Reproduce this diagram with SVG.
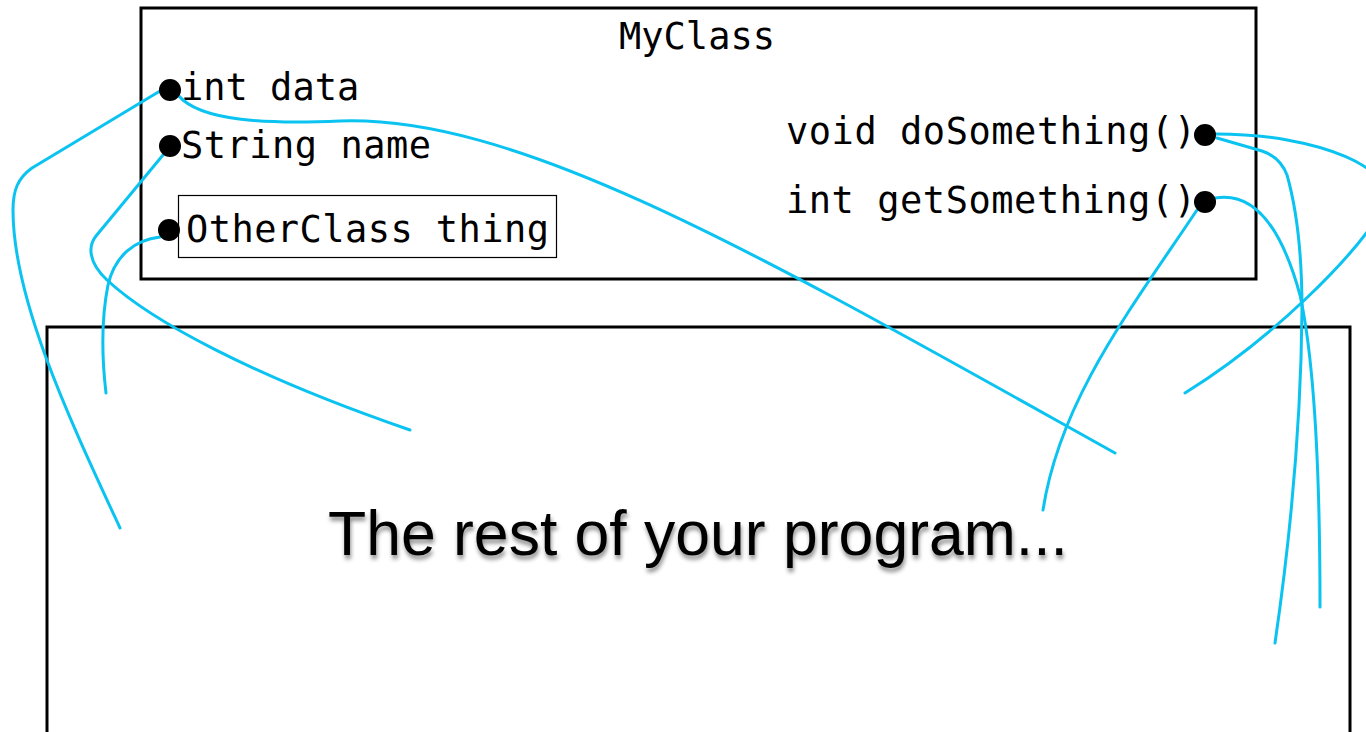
<svg xmlns="http://www.w3.org/2000/svg" width="1366" height="732" viewBox="0 0 1366 732">
<style>
.box{fill:none;stroke:#000;stroke-width:3}
.mono{font-family:"DejaVu Sans Mono","Liberation Mono",monospace;font-size:37px;fill:#000}
.dot{fill:#000}
.wire{fill:none;stroke:#0BC3F0;stroke-width:3;stroke-linecap:round;stroke-linejoin:round}
.big{font-family:"Liberation Sans",Arial,sans-serif;font-size:62.5px;fill:#000}
</style>
<defs>
<filter id="shadow" x="-5%" y="-30%" width="110%" height="160%">
<feDropShadow dx="1" dy="4" stdDeviation="2" flood-color="#000" flood-opacity="0.45"/>
</filter>
</defs>
<rect width="1366" height="732" fill="#fff"/>
<g id="program">
<rect class="box" x="47" y="327" width="1303" height="420"/>
<text class="big" x="328" y="555" filter="url(#shadow)">The rest of your program...</text>
</g>
<g id="myclass">
<rect class="box" x="141" y="8" width="1115" height="271"/>
<text class="mono" x="697" y="49" text-anchor="middle">MyClass</text>
</g>
<g id="field-data">
<text class="mono" x="181" y="100">int data</text>
</g>
<g id="field-name">
<text class="mono" x="181" y="158" textLength="250" lengthAdjust="spacing">String name</text>
</g>
<g id="field-thing">
<rect x="178.5" y="195.5" width="378" height="62" fill="none" stroke="#000" stroke-width="1.2"/>
<text class="mono" x="186" y="242" textLength="363" lengthAdjust="spacing">OtherClass thing</text>
</g>
<g id="method-do">
<text class="mono" x="786" y="144" textLength="410" lengthAdjust="spacing">void doSomething()</text>
</g>
<g id="method-get">
<text class="mono" x="786" y="213" textLength="410" lengthAdjust="spacing">int getSomething()</text>
</g>
<g id="connectors">
<path class="wire" d="M160,91 L32,168 C18,178 13,190 13,210 C13,300 70,420 120,528"/>
<path class="wire" d="M178,95 C200,122 270,124 340,121 C520,115 760,255 1115,453"/>
<path class="wire" d="M163,155 L96,236 C88,246 88,262 107,280 C150,320 250,375 410,430"/>
<path class="wire" d="M160,237 C135,240 115,255 108,285 C102,315 101,350 106,393"/>
<path class="wire" d="M1216,134 C1320,134 1400,170 1385,205 C1355,258 1270,340 1185,393"/>
<path class="wire" d="M1217,138 L1262,151 Q1280,157 1287,175 C1297,210 1302,260 1302,310 C1301,430 1290,540 1275,643"/>
<path class="wire" d="M1215,198 C1260,190 1285,240 1300,295 C1312,350 1320,450 1320,607"/>
<path class="wire" d="M1197,210 C1130,310 1060,400 1043,510"/>
</g>
<g id="dots">
<circle class="dot" cx="170" cy="90" r="11"/>
<circle class="dot" cx="170" cy="146" r="11"/>
<circle class="dot" cx="169" cy="230" r="11"/>
<circle class="dot" cx="1205" cy="135" r="11"/>
<circle class="dot" cx="1205" cy="202" r="11"/>
</g>
</svg>
